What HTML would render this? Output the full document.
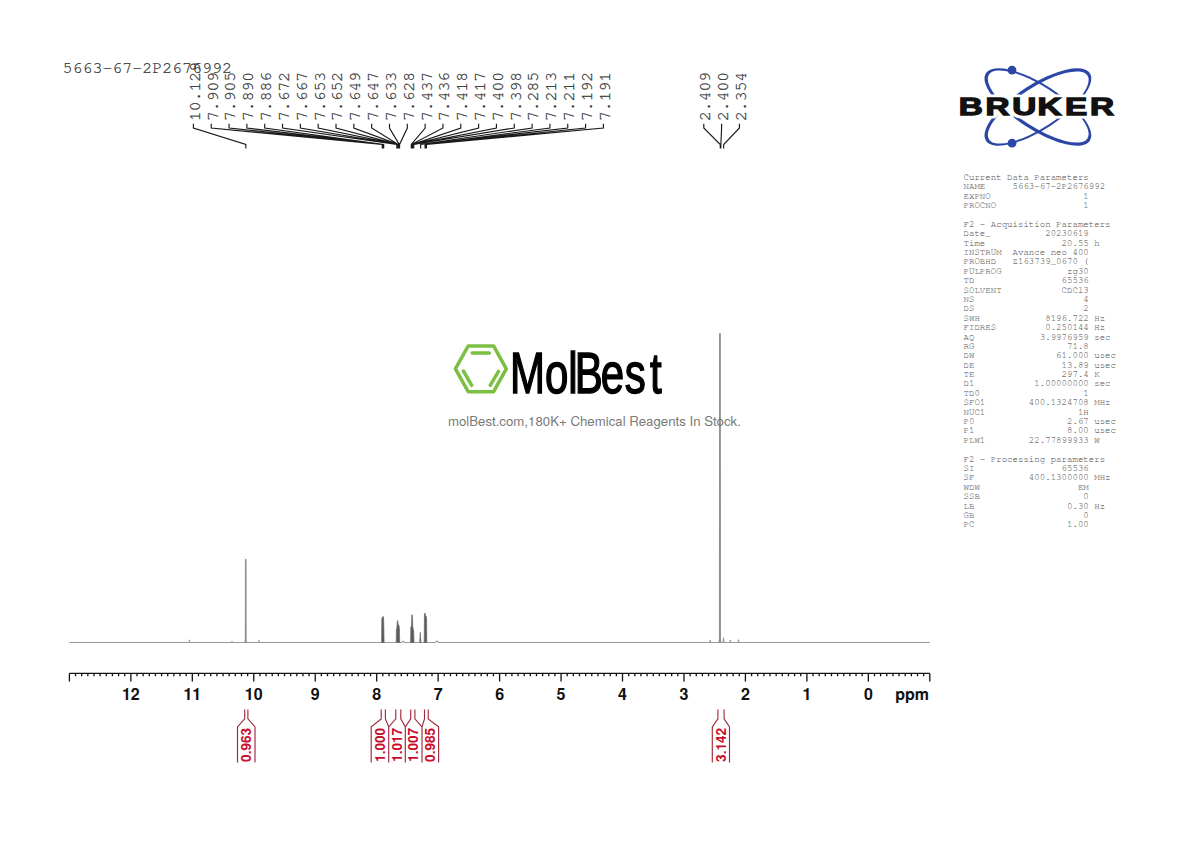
<!DOCTYPE html>
<html><head><meta charset="utf-8"><title>NMR spectrum 5663-67-2P2676992</title>
<style>html,body{margin:0;padding:0;background:#fff;}svg{display:block;}</style></head>
<body><svg width="1190" height="842" viewBox="0 0 1190 842">
<rect width="1190" height="842" fill="#fff"/>
<text x="62.6" y="72.5" font-family='"FreeMono", "Liberation Mono", monospace' font-size="16.6" fill="#333" stroke="#333" stroke-width="0.22">5663-67-2P2676992</text>
<text transform="translate(199.80,121.0) rotate(-90)" font-family='"FreeMono", "Liberation Mono", monospace' font-size="16.4" fill="#333" stroke="#333" stroke-width="0.22">10.129</text>
<text transform="translate(217.63,121.0) rotate(-90)" font-family='"FreeMono", "Liberation Mono", monospace' font-size="16.4" fill="#333" stroke="#333" stroke-width="0.22">7.909</text>
<text transform="translate(235.45,121.0) rotate(-90)" font-family='"FreeMono", "Liberation Mono", monospace' font-size="16.4" fill="#333" stroke="#333" stroke-width="0.22">7.905</text>
<text transform="translate(253.28,121.0) rotate(-90)" font-family='"FreeMono", "Liberation Mono", monospace' font-size="16.4" fill="#333" stroke="#333" stroke-width="0.22">7.890</text>
<text transform="translate(271.10,121.0) rotate(-90)" font-family='"FreeMono", "Liberation Mono", monospace' font-size="16.4" fill="#333" stroke="#333" stroke-width="0.22">7.886</text>
<text transform="translate(288.93,121.0) rotate(-90)" font-family='"FreeMono", "Liberation Mono", monospace' font-size="16.4" fill="#333" stroke="#333" stroke-width="0.22">7.672</text>
<text transform="translate(306.76,121.0) rotate(-90)" font-family='"FreeMono", "Liberation Mono", monospace' font-size="16.4" fill="#333" stroke="#333" stroke-width="0.22">7.667</text>
<text transform="translate(324.58,121.0) rotate(-90)" font-family='"FreeMono", "Liberation Mono", monospace' font-size="16.4" fill="#333" stroke="#333" stroke-width="0.22">7.653</text>
<text transform="translate(342.41,121.0) rotate(-90)" font-family='"FreeMono", "Liberation Mono", monospace' font-size="16.4" fill="#333" stroke="#333" stroke-width="0.22">7.652</text>
<text transform="translate(360.23,121.0) rotate(-90)" font-family='"FreeMono", "Liberation Mono", monospace' font-size="16.4" fill="#333" stroke="#333" stroke-width="0.22">7.649</text>
<text transform="translate(378.06,121.0) rotate(-90)" font-family='"FreeMono", "Liberation Mono", monospace' font-size="16.4" fill="#333" stroke="#333" stroke-width="0.22">7.647</text>
<text transform="translate(395.89,121.0) rotate(-90)" font-family='"FreeMono", "Liberation Mono", monospace' font-size="16.4" fill="#333" stroke="#333" stroke-width="0.22">7.633</text>
<text transform="translate(413.71,121.0) rotate(-90)" font-family='"FreeMono", "Liberation Mono", monospace' font-size="16.4" fill="#333" stroke="#333" stroke-width="0.22">7.628</text>
<text transform="translate(431.54,121.0) rotate(-90)" font-family='"FreeMono", "Liberation Mono", monospace' font-size="16.4" fill="#333" stroke="#333" stroke-width="0.22">7.437</text>
<text transform="translate(449.36,121.0) rotate(-90)" font-family='"FreeMono", "Liberation Mono", monospace' font-size="16.4" fill="#333" stroke="#333" stroke-width="0.22">7.436</text>
<text transform="translate(467.19,121.0) rotate(-90)" font-family='"FreeMono", "Liberation Mono", monospace' font-size="16.4" fill="#333" stroke="#333" stroke-width="0.22">7.418</text>
<text transform="translate(485.02,121.0) rotate(-90)" font-family='"FreeMono", "Liberation Mono", monospace' font-size="16.4" fill="#333" stroke="#333" stroke-width="0.22">7.417</text>
<text transform="translate(502.84,121.0) rotate(-90)" font-family='"FreeMono", "Liberation Mono", monospace' font-size="16.4" fill="#333" stroke="#333" stroke-width="0.22">7.400</text>
<text transform="translate(520.67,121.0) rotate(-90)" font-family='"FreeMono", "Liberation Mono", monospace' font-size="16.4" fill="#333" stroke="#333" stroke-width="0.22">7.398</text>
<text transform="translate(538.49,121.0) rotate(-90)" font-family='"FreeMono", "Liberation Mono", monospace' font-size="16.4" fill="#333" stroke="#333" stroke-width="0.22">7.285</text>
<text transform="translate(556.32,121.0) rotate(-90)" font-family='"FreeMono", "Liberation Mono", monospace' font-size="16.4" fill="#333" stroke="#333" stroke-width="0.22">7.213</text>
<text transform="translate(574.15,121.0) rotate(-90)" font-family='"FreeMono", "Liberation Mono", monospace' font-size="16.4" fill="#333" stroke="#333" stroke-width="0.22">7.211</text>
<text transform="translate(591.97,121.0) rotate(-90)" font-family='"FreeMono", "Liberation Mono", monospace' font-size="16.4" fill="#333" stroke="#333" stroke-width="0.22">7.192</text>
<text transform="translate(609.80,121.0) rotate(-90)" font-family='"FreeMono", "Liberation Mono", monospace' font-size="16.4" fill="#333" stroke="#333" stroke-width="0.22">7.191</text>
<text transform="translate(710.20,121.0) rotate(-90)" font-family='"FreeMono", "Liberation Mono", monospace' font-size="16.4" fill="#333" stroke="#333" stroke-width="0.22">2.409</text>
<text transform="translate(728.00,121.0) rotate(-90)" font-family='"FreeMono", "Liberation Mono", monospace' font-size="16.4" fill="#333" stroke="#333" stroke-width="0.22">2.400</text>
<text transform="translate(745.80,121.0) rotate(-90)" font-family='"FreeMono", "Liberation Mono", monospace' font-size="16.4" fill="#333" stroke="#333" stroke-width="0.22">2.354</text>
<path d="M193.40 123.8V128.0L245.84 144.5V148.5 M211.23 123.8V128.0L382.28 144.5V148.5 M229.05 123.8V128.0L382.52 144.5V148.5 M246.88 123.8V128.0L383.45 144.5V148.5 M264.70 123.8V128.0L383.69 144.5V148.5 M282.53 123.8V128.0L396.84 144.5V148.5 M300.36 123.8V128.0L397.15 144.5V148.5 M318.18 123.8V128.0L398.01 144.5V148.5 M336.01 123.8V128.0L398.07 144.5V148.5 M353.83 123.8V128.0L398.26 144.5V148.5 M371.66 123.8V128.0L398.38 144.5V148.5 M389.49 123.8V128.0L399.24 144.5V148.5 M407.31 123.8V128.0L399.55 144.5V148.5 M425.14 123.8V128.0L411.29 144.5V148.5 M442.96 123.8V128.0L411.35 144.5V148.5 M460.79 123.8V128.0L412.45 144.5V148.5 M478.62 123.8V128.0L412.52 144.5V148.5 M496.44 123.8V128.0L413.56 144.5V148.5 M514.27 123.8V128.0L413.68 144.5V148.5 M532.09 123.8V128.0L420.63 144.5V148.5 M549.92 123.8V128.0L425.05 144.5V148.5 M567.75 123.8V128.0L425.18 144.5V148.5 M585.57 123.8V128.0L426.34 144.5V148.5 M603.40 123.8V128.0L426.40 144.5V148.5 M703.80 123.8V128.0L720.29 144.5V148.5 M721.60 123.8V128.0L720.85 144.5V148.5 M739.40 123.8V128.0L723.67 144.5V148.5" fill="none" stroke="#1a1a1a" stroke-width="1.15"/>
<path d="M69.40 642.45L189.00 642.45L189.40 640.0L189.80 642.45L231.60 642.45L232.00 641.2L232.40 642.45L258.40 642.45L258.90 640.3L259.40 642.45L402.00 642.45L403.20 641.0L404.40 642.45L435.40 642.45L436.90 641.0L438.40 642.45L709.70 642.45L710.20 640.2L710.70 642.45L723.05 642.45L723.50 637.7L723.95 642.45L729.85 642.45L730.30 640.2L730.75 642.45L738.05 642.45L738.50 639.9L738.95 642.45L929.80 642.45" fill="none" stroke="#9a9a9a" stroke-width="1.05" stroke-linejoin="round"/>
<path d="M244.35 642.45L244.85 639.45L244.95 559.6Q245.75 558.0 246.55 559.6L246.65 639.45L247.15 642.45Z" fill="#8e8e8e"/>
<path d="M718.45 642.45L718.95 639.45L719.05 333.6Q719.95 332.0 720.85 333.6L720.95 639.45L721.45 642.45Z" fill="#8e8e8e"/>
<path d="M419.70 642.45L420.3 632.3L420.90 642.45Z" fill="#5a5a5a" stroke="#6a6a6a" stroke-width="0.7" stroke-linejoin="round"/>
<path d="M381.60 642.45L381.80 619.00L382.20 617.20L382.70 617.00L383.20 616.50L383.60 617.60L383.90 630.00L384.10 642.45Z" fill="#5a5a5a" stroke="#6a6a6a" stroke-width="0.7" stroke-linejoin="round"/>
<path d="M396.20 642.45L396.40 629.50L396.90 627.50L397.30 621.50L397.70 620.50L398.10 623.50L398.50 625.30L399.00 625.30L399.40 628.50L399.70 642.45Z" fill="#5a5a5a" stroke="#6a6a6a" stroke-width="0.7" stroke-linejoin="round"/>
<path d="M410.60 642.45L410.80 627.00L411.40 626.20L411.80 616.00L412.10 614.60L412.40 616.00L412.80 626.50L413.30 629.60L413.70 631.00L414.00 642.45Z" fill="#5a5a5a" stroke="#6a6a6a" stroke-width="0.7" stroke-linejoin="round"/>
<path d="M424.20 642.45L424.40 614.00L424.80 613.00L425.20 613.80L425.60 616.00L426.20 616.30L426.60 620.00L426.80 642.45Z" fill="#5a5a5a" stroke="#6a6a6a" stroke-width="0.7" stroke-linejoin="round"/>
<path d="M69.40 673.4H929.80M69.40 673.4V681.6M75.55 673.4V676.2M81.69 673.4V676.2M87.84 673.4V676.2M93.98 673.4V676.2M100.13 673.4V676.2M106.27 673.4V676.2M112.42 673.4V676.2M118.57 673.4V676.2M124.71 673.4V676.2M130.86 673.4V681.6M137.00 673.4V676.2M143.15 673.4V676.2M149.29 673.4V676.2M155.44 673.4V676.2M161.59 673.4V676.2M167.73 673.4V676.2M173.88 673.4V676.2M180.02 673.4V676.2M186.17 673.4V676.2M192.31 673.4V681.6M198.46 673.4V676.2M204.61 673.4V676.2M210.75 673.4V676.2M216.90 673.4V676.2M223.04 673.4V676.2M229.19 673.4V676.2M235.33 673.4V676.2M241.48 673.4V676.2M247.63 673.4V676.2M253.77 673.4V681.6M259.92 673.4V676.2M266.06 673.4V676.2M272.21 673.4V676.2M278.35 673.4V676.2M284.50 673.4V676.2M290.65 673.4V676.2M296.79 673.4V676.2M302.94 673.4V676.2M309.08 673.4V676.2M315.23 673.4V681.6M321.37 673.4V676.2M327.52 673.4V676.2M333.67 673.4V676.2M339.81 673.4V676.2M345.96 673.4V676.2M352.10 673.4V676.2M358.25 673.4V676.2M364.39 673.4V676.2M370.54 673.4V676.2M376.69 673.4V681.6M382.83 673.4V676.2M388.98 673.4V676.2M395.12 673.4V676.2M401.27 673.4V676.2M407.41 673.4V676.2M413.56 673.4V676.2M419.71 673.4V676.2M425.85 673.4V676.2M432.00 673.4V676.2M438.14 673.4V681.6M444.29 673.4V676.2M450.43 673.4V676.2M456.58 673.4V676.2M462.73 673.4V676.2M468.87 673.4V676.2M475.02 673.4V676.2M481.16 673.4V676.2M487.31 673.4V676.2M493.45 673.4V676.2M499.60 673.4V681.6M505.75 673.4V676.2M511.89 673.4V676.2M518.04 673.4V676.2M524.18 673.4V676.2M530.33 673.4V676.2M536.47 673.4V676.2M542.62 673.4V676.2M548.77 673.4V676.2M554.91 673.4V676.2M561.06 673.4V681.6M567.20 673.4V676.2M573.35 673.4V676.2M579.49 673.4V676.2M585.64 673.4V676.2M591.79 673.4V676.2M597.93 673.4V676.2M604.08 673.4V676.2M610.22 673.4V676.2M616.37 673.4V676.2M622.51 673.4V681.6M628.66 673.4V676.2M634.81 673.4V676.2M640.95 673.4V676.2M647.10 673.4V676.2M653.24 673.4V676.2M659.39 673.4V676.2M665.53 673.4V676.2M671.68 673.4V676.2M677.83 673.4V676.2M683.97 673.4V681.6M690.12 673.4V676.2M696.26 673.4V676.2M702.41 673.4V676.2M708.55 673.4V676.2M714.70 673.4V676.2M720.85 673.4V676.2M726.99 673.4V676.2M733.14 673.4V676.2M739.28 673.4V676.2M745.43 673.4V681.6M751.57 673.4V676.2M757.72 673.4V676.2M763.87 673.4V676.2M770.01 673.4V676.2M776.16 673.4V676.2M782.30 673.4V676.2M788.45 673.4V676.2M794.59 673.4V676.2M800.74 673.4V676.2M806.89 673.4V681.6M813.03 673.4V676.2M819.18 673.4V676.2M825.32 673.4V676.2M831.47 673.4V676.2M837.61 673.4V676.2M843.76 673.4V676.2M849.91 673.4V676.2M856.05 673.4V676.2M862.20 673.4V676.2M868.34 673.4V681.6M874.49 673.4V676.2M880.63 673.4V676.2M886.78 673.4V676.2M892.93 673.4V676.2M899.07 673.4V676.2M905.22 673.4V676.2M911.36 673.4V676.2M917.51 673.4V676.2M923.65 673.4V676.2M929.80 673.4V681.6" fill="none" stroke="#111" stroke-width="1.3"/>
<text x="868.34" y="699.8" text-anchor="middle" font-family='"TeX Gyre Heros", "Liberation Sans", Arial, sans-serif' font-weight="bold" font-size="16" fill="#111">0</text>
<text x="806.89" y="699.8" text-anchor="middle" font-family='"TeX Gyre Heros", "Liberation Sans", Arial, sans-serif' font-weight="bold" font-size="16" fill="#111">1</text>
<text x="745.43" y="699.8" text-anchor="middle" font-family='"TeX Gyre Heros", "Liberation Sans", Arial, sans-serif' font-weight="bold" font-size="16" fill="#111">2</text>
<text x="683.97" y="699.8" text-anchor="middle" font-family='"TeX Gyre Heros", "Liberation Sans", Arial, sans-serif' font-weight="bold" font-size="16" fill="#111">3</text>
<text x="622.51" y="699.8" text-anchor="middle" font-family='"TeX Gyre Heros", "Liberation Sans", Arial, sans-serif' font-weight="bold" font-size="16" fill="#111">4</text>
<text x="561.06" y="699.8" text-anchor="middle" font-family='"TeX Gyre Heros", "Liberation Sans", Arial, sans-serif' font-weight="bold" font-size="16" fill="#111">5</text>
<text x="499.60" y="699.8" text-anchor="middle" font-family='"TeX Gyre Heros", "Liberation Sans", Arial, sans-serif' font-weight="bold" font-size="16" fill="#111">6</text>
<text x="438.14" y="699.8" text-anchor="middle" font-family='"TeX Gyre Heros", "Liberation Sans", Arial, sans-serif' font-weight="bold" font-size="16" fill="#111">7</text>
<text x="376.69" y="699.8" text-anchor="middle" font-family='"TeX Gyre Heros", "Liberation Sans", Arial, sans-serif' font-weight="bold" font-size="16" fill="#111">8</text>
<text x="315.23" y="699.8" text-anchor="middle" font-family='"TeX Gyre Heros", "Liberation Sans", Arial, sans-serif' font-weight="bold" font-size="16" fill="#111">9</text>
<text x="253.77" y="699.8" text-anchor="middle" font-family='"TeX Gyre Heros", "Liberation Sans", Arial, sans-serif' font-weight="bold" font-size="16" fill="#111">10</text>
<text x="192.31" y="699.8" text-anchor="middle" font-family='"TeX Gyre Heros", "Liberation Sans", Arial, sans-serif' font-weight="bold" font-size="16" fill="#111">11</text>
<text x="130.86" y="699.8" text-anchor="middle" font-family='"TeX Gyre Heros", "Liberation Sans", Arial, sans-serif' font-weight="bold" font-size="16" fill="#111">12</text>
<text x="929" y="699.8" text-anchor="end" font-family='"TeX Gyre Heros", "Liberation Sans", Arial, sans-serif' font-weight="bold" font-size="16" fill="#111">ppm</text>
<text transform="translate(251.05,761.9) rotate(-90)" font-family='"TeX Gyre Heros", "Liberation Sans", Arial, sans-serif' font-weight="bold" font-size="13.6" fill="#c8102e">0.963</text>
<text transform="translate(384.75,761.9) rotate(-90)" font-family='"TeX Gyre Heros", "Liberation Sans", Arial, sans-serif' font-weight="bold" font-size="13.6" fill="#c8102e">1.000</text>
<text transform="translate(401.80,761.9) rotate(-90)" font-family='"TeX Gyre Heros", "Liberation Sans", Arial, sans-serif' font-weight="bold" font-size="13.6" fill="#c8102e">1.017</text>
<text transform="translate(418.45,761.9) rotate(-90)" font-family='"TeX Gyre Heros", "Liberation Sans", Arial, sans-serif' font-weight="bold" font-size="13.6" fill="#c8102e">1.007</text>
<text transform="translate(435.10,761.9) rotate(-90)" font-family='"TeX Gyre Heros", "Liberation Sans", Arial, sans-serif' font-weight="bold" font-size="13.6" fill="#c8102e">0.985</text>
<text transform="translate(725.70,761.9) rotate(-90)" font-family='"TeX Gyre Heros", "Liberation Sans", Arial, sans-serif' font-weight="bold" font-size="13.6" fill="#c8102e">3.142</text>
<path d="M244.70 709.6V718.9L237.50 726.9V762.4 M247.90 709.6V718.9L255.00 726.9V762.4 M381.20 709.6V718.9L371.20 726.9V762.4 M385.40 709.6V718.9L388.70 726.9V762.4 M395.80 709.6V718.9L388.70 726.9V762.4 M400.80 709.6V718.9L405.30 726.9V762.4 M410.70 709.6V718.9L405.30 726.9V762.4 M414.90 709.6V718.9L422.00 726.9V762.4 M424.50 709.6V718.9L422.00 726.9V762.4 M428.20 709.6V718.9L438.60 726.9V762.4 M717.90 709.6V718.9L712.30 726.9V762.4 M724.10 709.6V718.9L729.50 726.9V762.4" fill="none" stroke="#a02a3a" stroke-width="1.15"/>
<text font-family='"FreeMono", "Liberation Mono", monospace' font-size="9.09" fill="#5e5e5e" stroke="#5e5e5e" stroke-width="0.05" xml:space="preserve" style="white-space:pre"><tspan x="963.5" y="180.00">Current Data Parameters</tspan><tspan x="963.5" y="189.39">NAME     5663-67-2P2676992</tspan><tspan x="963.5" y="198.77">EXPNO                 1</tspan><tspan x="963.5" y="208.16">PROCNO                1</tspan><tspan x="963.5" y="226.93">F2 - Acquisition Parameters</tspan><tspan x="963.5" y="236.32">Date_          20230619</tspan><tspan x="963.5" y="245.70">Time              20.55 h</tspan><tspan x="963.5" y="255.09">INSTRUM  Avance neo 400</tspan><tspan x="963.5" y="264.47">PROBHD   Z163739_0670 (</tspan><tspan x="963.5" y="273.86">PULPROG            zg30</tspan><tspan x="963.5" y="283.25">TD                65536</tspan><tspan x="963.5" y="292.63">SOLVENT           CDCl3</tspan><tspan x="963.5" y="302.02">NS                    4</tspan><tspan x="963.5" y="311.40">DS                    2</tspan><tspan x="963.5" y="320.79">SWH            8196.722 Hz</tspan><tspan x="963.5" y="330.18">FIDRES         0.250144 Hz</tspan><tspan x="963.5" y="339.56">AQ            3.9976959 sec</tspan><tspan x="963.5" y="348.95">RG                 71.8</tspan><tspan x="963.5" y="358.33">DW               61.000 usec</tspan><tspan x="963.5" y="367.72">DE                13.89 usec</tspan><tspan x="963.5" y="377.11">TE                297.4 K</tspan><tspan x="963.5" y="386.49">D1           1.00000000 sec</tspan><tspan x="963.5" y="395.88">TD0                   1</tspan><tspan x="963.5" y="405.26">SFO1        400.1324708 MHz</tspan><tspan x="963.5" y="414.65">NUC1                 1H</tspan><tspan x="963.5" y="424.04">P0                 2.67 usec</tspan><tspan x="963.5" y="433.42">P1                 8.00 usec</tspan><tspan x="963.5" y="442.81">PLW1        22.77899933 W</tspan><tspan x="963.5" y="461.58">F2 - Processing parameters</tspan><tspan x="963.5" y="470.97">SI                65536</tspan><tspan x="963.5" y="480.35">SF          400.1300000 MHz</tspan><tspan x="963.5" y="489.74">WDW                  EM</tspan><tspan x="963.5" y="499.12">SSB                   0</tspan><tspan x="963.5" y="508.51">LB                 0.30 Hz</tspan><tspan x="963.5" y="517.90">GB                    0</tspan><tspan x="963.5" y="527.28">PC                 1.00</tspan></text>
<path transform="rotate(32.99 1037.9 107.0)" fill-rule="evenodd" fill="#2b46a6" d="M975.95 107.00A61.95 22.60 0 1 0 1099.85 107.00A61.95 22.60 0 1 0 975.95 107.00ZM979.25 106.40A58.65 20.00 0 1 0 1096.55 106.40A58.65 20.00 0 1 0 979.25 106.40Z"/>
<path transform="rotate(-32.99 1037.9 107.0)" fill-rule="evenodd" fill="#2b46a6" d="M975.95 107.00A61.95 22.60 0 1 0 1099.85 107.00A61.95 22.60 0 1 0 975.95 107.00ZM979.25 107.60A58.65 20.00 0 1 0 1096.55 107.60A58.65 20.00 0 1 0 979.25 107.60Z"/>
<circle cx="1012.0" cy="70.1" r="4.4" fill="#2b46a6"/><circle cx="1012.0" cy="143.2" r="4.4" fill="#2b46a6"/>
<text transform="translate(0 115.17) scale(0.3327 0.2405)" x="2881.71 2962.07 3042.29 3118.72 3201.42 3276.64" y="0" font-family='"Liberation Sans", Arial, sans-serif' font-weight="bold" font-size="100.0" fill="#fff" stroke="#fff" stroke-width="30.143" stroke-linejoin="round">BRUKER</text>
<text transform="translate(0 115.17) scale(0.3327 0.2405)" x="2881.71 2962.07 3042.29 3118.72 3201.42 3276.64" y="0" font-family='"Liberation Sans", Arial, sans-serif' font-weight="bold" font-size="100.0" fill="#111" stroke="#111" stroke-width="5.200" stroke-linejoin="miter">BRUKER</text>
<g fill="none" stroke="#7cc043" stroke-width="3.5" stroke-linejoin="round" stroke-linecap="round"><path d="M455.4 368.8L468.2 345.9H493.6L506.3 368.8L493.6 391.7H468.2Z"/><path d="M472.2 353H489.3M463.4 371L471.7 385.3M498.5 371.4L490.2 385.3"/></g>
<text transform="translate(0 392.95) scale(0.4203 0.5742)" x="1213.48 1296.80 1351.90 1367.35 1429.53 1486.31 1546.58" y="0" font-family='"Liberation Sans", Arial, sans-serif' font-size="100.0" fill="#000" stroke="#000" stroke-width="2.6" stroke-linejoin="miter">MolBest</text>
<text x="447.9" y="425.8" font-family='"TeX Gyre Heros", "Liberation Sans", Arial, sans-serif' font-size="13.2" fill="#7a7a7a" textLength="293" lengthAdjust="spacingAndGlyphs">molBest.com,180K+ Chemical Reagents In Stock.</text>
</svg></body></html>
